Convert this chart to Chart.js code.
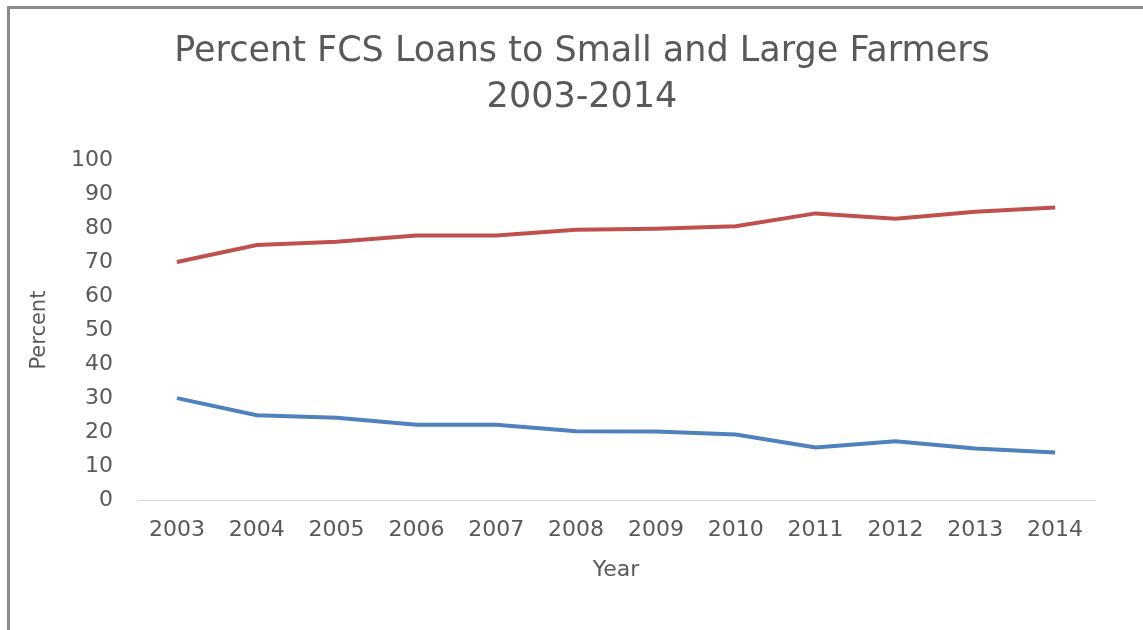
<!DOCTYPE html>
<html>
<head>
<meta charset="utf-8">
<script src="https://cdn.jsdelivr.net/npm/chart.js@4"></script>
<style>
  body { margin: 0; background: #fff; }
  #frame {
    position: absolute; left: 7px; top: 6px; width: 1136px; height: 624px;
    border-top: 3px solid #8c8c8c; border-left: 3px solid #8c8c8c;
  }
  #wrap { position: absolute; left: 0; top: 0; width: 1143px; height: 630px; }
</style>
</head>
<body>
<div id="frame"></div>
<div id="wrap"><canvas id="myChart"></canvas></div>
<script>
const years = ["2003", "2004", "2005", "2006", "2007", "2008", "2009", "2010", "2011", "2012", "2013", "2014"];
const largeFarmers = [70, 75, 76, 77.8, 77.8, 79.5, 79.8, 80.5, 84.3, 82.7, 84.8, 86];
const smallFarmers = [30, 25, 24.2, 22.2, 22.2, 20.3, 20.2, 19.3, 15.5, 17.3, 15.2, 14];
const yTicks = [0, 10, 20, 30, 40, 50, 60, 70, 80, 90, 100];

const grey = "#595959";
const font = "'DejaVu Sans', sans-serif";

const ctx = document.getElementById("myChart");
new Chart(ctx, {
  type: "line",
  data: {
    labels: years,
    datasets: [
      {
        label: "Large farmers",
        data: largeFarmers,
        borderColor: "#c0504d",
        backgroundColor: "#c0504d",
        borderWidth: 4,
        pointRadius: 0,
        tension: 0,
      },
      {
        label: "Small farmers",
        data: smallFarmers,
        borderColor: "#4f81bd",
        backgroundColor: "#4f81bd",
        borderWidth: 4,
        pointRadius: 0,
        tension: 0,
      },
    ],
  },
  options: {
    responsive: true,
    maintainAspectRatio: false,
    animation: false,
    layout: {
      padding: { left: 22, right: 1, top: 29, bottom: 34 },
    },
    plugins: {
      legend: { display: false },
      tooltip: { enabled: false },
      title: {
        display: true,
        text: ["Percent FCS Loans to Small and Large Farmers", "2003-2014"],
        color: grey,
        font: { family: font, size: 35, weight: "normal", lineHeight: 1.314 },
        padding: { top: 0, bottom: 39 },
      },
    },
    scales: {
      x: {
        offset: true,
        grid: { display: false },
        border: { display: true, color: "#d9d9d9", width: 1 },
        ticks: { color: grey, font: { family: font, size: 22 }, padding: 9 },
        title: {
          display: true,
          text: "Year",
          color: grey,
          font: { family: font, size: 22 },
          padding: { top: 4, bottom: 13 },
        },
      },
      y: {
        min: 0,
        max: 100,
        afterBuildTicks: (axis) => {
          axis.ticks = yTicks.map((v) => ({ value: v }));
        },
        afterFit: (axis) => {
          axis.width = 115;
        },
        grid: { display: false },
        border: { display: false },
        ticks: { color: grey, font: { family: font, size: 22 }, padding: 16 },
        title: {
          display: true,
          text: "Percent",
          color: grey,
          font: { family: font, size: 21 },
          padding: { top: 5, bottom: 18 },
        },
      },
      // empty right axis, only keeps the title centred like the original
      y2: {
        position: "right",
        grid: { display: false },
        border: { display: false },
        ticks: { display: false },
        afterFit: (axis) => {
          axis.width = 47;
        },
      },
    },
  },
});
</script>
</body>
</html>
